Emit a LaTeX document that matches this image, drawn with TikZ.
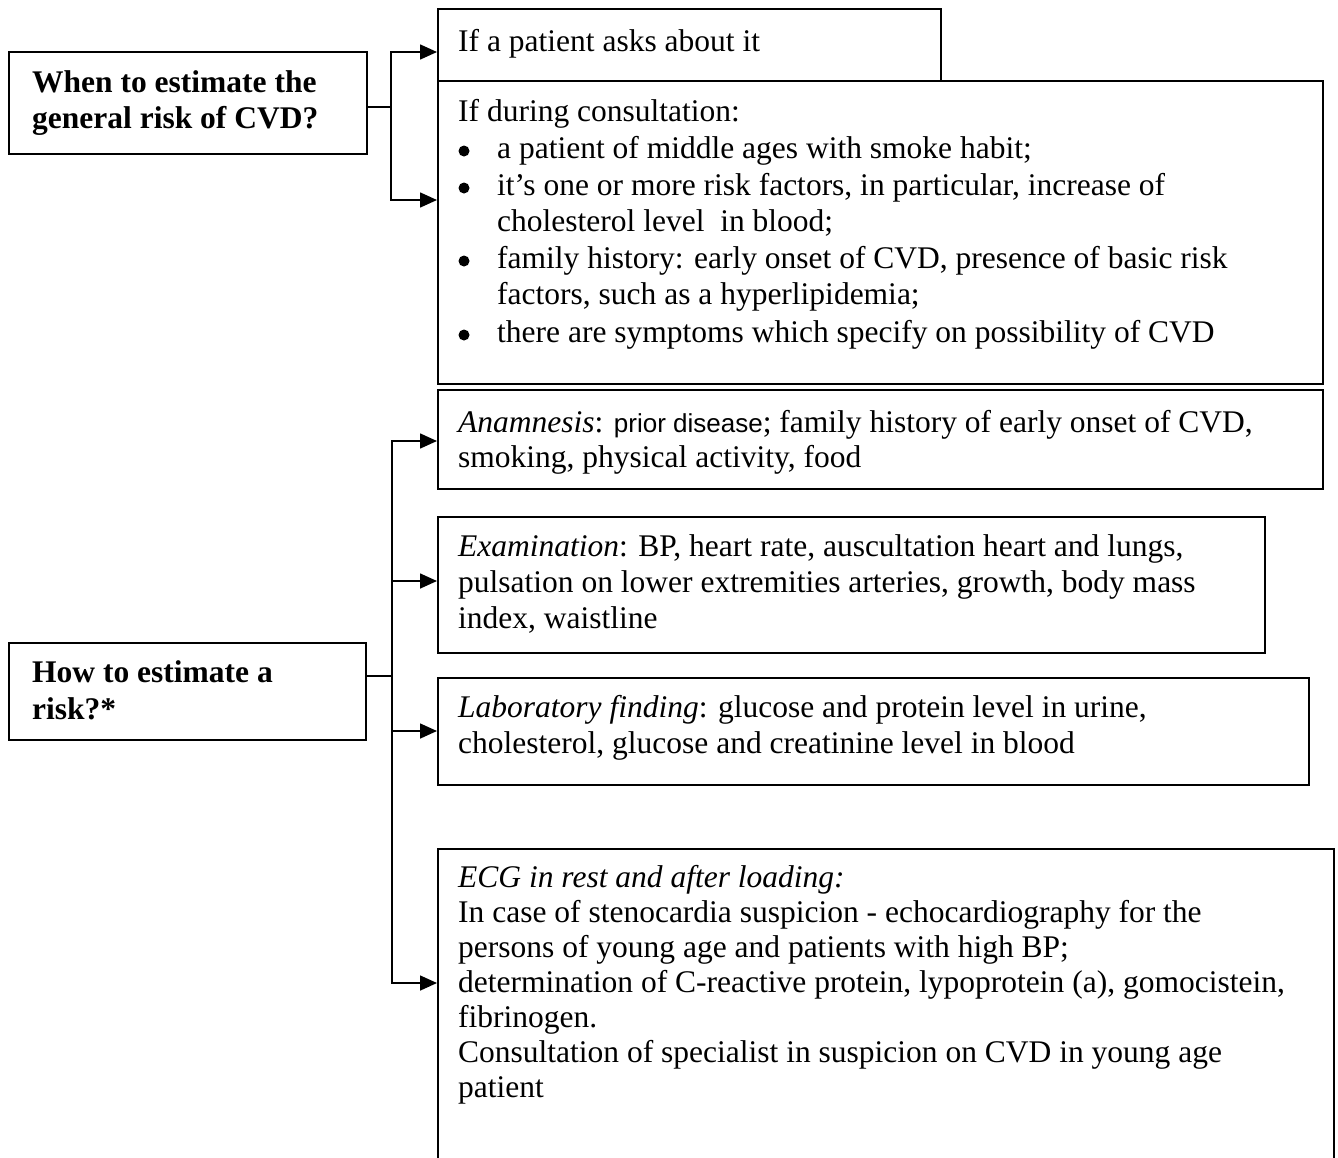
\documentclass[tikz,border=0pt]{standalone}
\usepackage{fontspec}
\setmainfont{Liberation Serif}
\newfontfamily\arialfont{Liberation Sans}
\usetikzlibrary{arrows.meta}
\tikzset{
  box/.style={draw, line width=1.6pt, rectangle, inner sep=0pt, anchor=north west},
  txt/.style={anchor=base west, inner sep=0pt, font=\fontsize{31.5}{36}\selectfont},
  head/.style={anchor=base west, inner sep=0pt, font=\fontsize{31.5}{36}\selectfont\bfseries},
  bulletdot/.style={circle, fill, inner sep=0pt, minimum size=11pt},
  link/.style={line width=1.6pt},
  arr/.style={link, -{Triangle[length=17pt,width=15pt]}},
}
\begin{document}
\begin{tikzpicture}[x=1pt,y=-1pt]
\useasboundingbox (0,0) rectangle (1338,1157);
\clip (0,0) rectangle (1338,1157);

% question boxes
\node[box, minimum width=358pt, minimum height=102pt] (qA) at (8,51) {};
\node[box, minimum width=357pt, minimum height=97pt] (qB) at (8,642) {};
\node[head] (qA1) at (32,92) {When to estimate the};
\node[head] (qA2) at (32,128) {general risk of CVD?};
\node[head] (qB1) at (32,682) {How to estimate a};
\node[head] (qB2) at (32,719) {risk?*};

% answer boxes
\node[box, minimum width=503pt, minimum height=72pt] (ask) at (437,8) {};
\node[box, minimum width=885pt, minimum height=303pt] (cons) at (437,80) {};
\node[box, minimum width=885pt, minimum height=99pt] (anam) at (437,389) {};
\node[box, minimum width=827pt, minimum height=136pt] (exam) at (437,516) {};
\node[box, minimum width=871pt, minimum height=107pt] (lab) at (437,677) {};
\node[box, minimum width=896pt, minimum height=400pt] (ecg) at (437,848) {};

% texts of the first group
\node[txt] (ask1) at (458,51) {If a patient asks about it};
\node[txt] (cons0) at (458,121) {If during consultation:};
\foreach \n/\yy in {1/151,2/188,3/261,4/335}
  \node[bulletdot] (bul\n) at (464,\yy) {};
\foreach \n/\yy/\t in {
  1/158/{a patient of middle ages with smoke habit;},
  2/195/{it’s one or more risk factors, in particular, increase of},
  3/231/{cholesterol level\ \ in blood;},
  4/268/{family history: early onset of CVD, presence of basic risk},
  5/304/{factors, such as a hyperlipidemia;},
  6/342/{there are symptoms which specify on possibility of CVD}}
  \node[txt] (cons\n) at (497,\yy) {\t};

% texts of the second group
\node[txt] (anam1) at (458,432) {\textit{Anamnesis}: {\arialfont\fontsize{26}{36}\selectfont prior disease}; family history of early onset of CVD,};
\node[txt] (anam2) at (458,467) {smoking, physical activity, food};
\node[txt] (exam1) at (458,556) {\textit{Examination}: BP, heart rate, auscultation heart and lungs,};
\node[txt] (exam2) at (458,592) {pulsation on lower extremities arteries, growth, body mass};
\node[txt] (exam3) at (458,628) {index, waistline};
\node[txt] (lab1) at (458,717) {\textit{Laboratory finding}: glucose and protein level in urine,};
\node[txt] (lab2) at (458,753) {cholesterol, glucose and creatinine level in blood};
\foreach \n/\yy/\t in {
  1/887/{\textit{ECG in rest and after loading:}},
  2/922/{In case of stenocardia suspicion - echocardiography for the},
  3/957/{persons of young age and patients with high BP;},
  4/992/{determination of C-reactive protein, lypoprotein (a), gomocistein,},
  5/1027/{fibrinogen.},
  6/1062/{Consultation of specialist in suspicion on CVD in young age},
  7/1097/{patient}}
  \node[txt] (ecg\n) at (458,\yy) {\t};

% connectors
\coordinate (jA) at (391,107);
\coordinate (yAsk) at (0,52);
\coordinate (yCons) at (0,200);
\draw[link] (qA.east |- jA) -- (jA);
\draw[arr] (jA) |- (ask.west |- yAsk);
\draw[arr] (jA) |- (cons.west |- yCons);

\coordinate (jB) at (392,676);
\coordinate (yAnam) at (0,441);
\coordinate (yExam) at (0,581);
\coordinate (yLab) at (0,731);
\coordinate (yEcg) at (0,983);
\draw[link] (qB.east |- jB) -- (jB);
\draw[arr] (jB) |- (anam.west |- yAnam);
\draw[arr] (jB) |- (exam.west |- yExam);
\draw[arr] (jB) |- (lab.west |- yLab);
\draw[arr] (jB) |- (ecg.west |- yEcg);
\end{tikzpicture}
\end{document}
